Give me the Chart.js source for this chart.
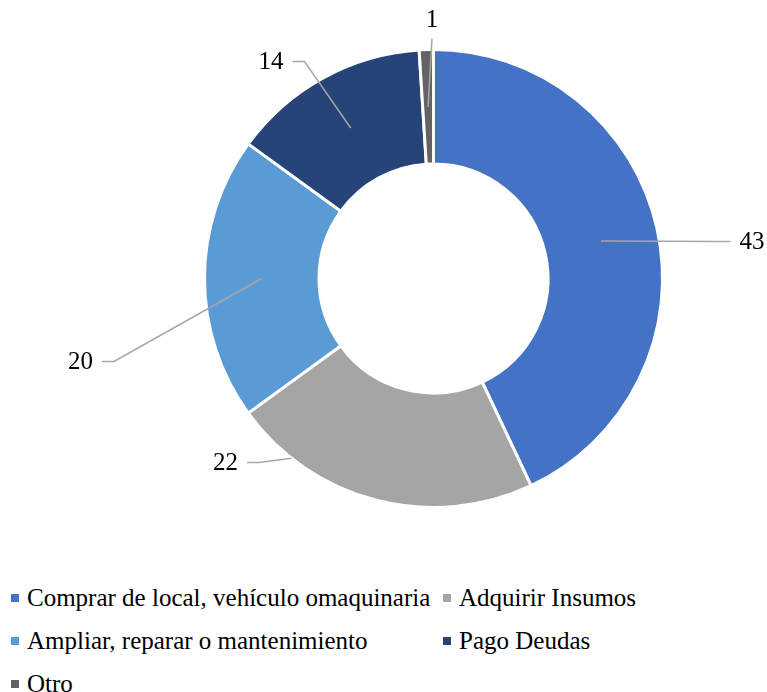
<!DOCTYPE html>
<html lang="es">
<head>
<meta charset="utf-8">
<title>Destino del crédito</title>
<script src="https://cdn.jsdelivr.net/npm/chart.js@4/dist/chart.umd.min.js"></script>
<style>
    html, body {
        margin: 0;
        padding: 0;
        background: #ffffff;
    }
    #page {
        position: relative;
        width: 767px;
        height: 692px;
        overflow: hidden;
        font-family: "Liberation Serif", "Times New Roman", serif;
    }
    #chart-wrapper {
        position: absolute;
        left: 0;
        top: 0;
        width: 767px;
        height: 560px;
    }
    #legend {
        position: absolute;
        left: 11px;
        top: 576px;
        display: grid;
        grid-template-columns: 432px auto;
        grid-auto-rows: 43px;
    }
    .legend-item {
        display: flex;
        align-items: center;
        font-size: 25px;
        color: #000000;
        white-space: nowrap;
    }
    .legend-box {
        width: 8px;
        height: 8px;
        margin-right: 8px;
        flex: none;
    }
</style>
</head>
<body>
<div id="page">
    <div id="chart-wrapper">
        <canvas id="donutChart"></canvas>
    </div>
    <div id="legend"></div>
</div>

<script>
// --- Data ---
const categories = [
    'Comprar de local, vehículo omaquinaria',
    'Adquirir Insumos',
    'Ampliar, reparar o mantenimiento',
    'Pago Deudas',
    'Otro'
];
const values = [43, 22, 20, 14, 1];

// --- Style ---
const sliceColors = ['#4472C4', '#A5A5A5', '#5B9BD5', '#264478', '#636363'];
const leaderColor = '#A6A6A6';
const labelFont = '25px "Liberation Serif", "Times New Roman", serif';

// label centre relative to the doughnut centre, side the leader leaves from,
// and whether the leader stops at the outer edge of the ring
const labelOffsets = [[318.5, -36], [-208, 185], [-353, 84], [-162.5, -216], [-1.5, -258]];
const labelSides = ['left', 'right', 'right', 'right', 'bottom'];
const leaderToEdge = [false, true, false, false, false];

/**
 * Draws the value labels with Excel-style leader lines.
 */
const leaderLabelsPlugin = {
    id: 'leaderLabels',
    afterDatasetsDraw(chart) {
        const ctx = chart.ctx;
        const meta = chart.getDatasetMeta(0);

        ctx.save();
        ctx.font = labelFont;
        ctx.textAlign = 'center';
        ctx.textBaseline = 'middle';

        meta.data.forEach((arc, i) => {
            const { x: cx, y: cy, outerRadius } = arc.getProps(['x', 'y', 'outerRadius'], true);
            const target = arc.getCenterPoint();
            const lx = cx + labelOffsets[i][0];
            const ly = cy + labelOffsets[i][1];
            const text = String(values[i]);
            const halfW = ctx.measureText(text).width / 2;

            // leader line
            let start;
            let elbow;
            if (labelSides[i] === 'bottom') {
                start = { x: lx, y: ly + 18 };
                elbow = start;
            } else {
                const dir = labelSides[i] === 'right' ? 1 : -1;
                start = { x: lx + dir * (halfW + 9), y: ly - 1 };
                elbow = { x: start.x + dir * 12, y: start.y };
            }

            let end = target;
            if (leaderToEdge[i]) {
                end = clipToCircle(elbow, target, cx, cy, outerRadius);
            }

            ctx.beginPath();
            ctx.strokeStyle = leaderColor;
            ctx.lineWidth = 1.5;
            ctx.moveTo(start.x, start.y);
            ctx.lineTo(elbow.x, elbow.y);
            ctx.lineTo(end.x, end.y);
            ctx.stroke();

            ctx.fillStyle = '#000000';
            ctx.fillText(text, lx, ly);
        });

        ctx.restore();
    }
};

/**
 * Returns the point where segment p->q first enters the circle (cx, cy, r).
 */
function clipToCircle(p, q, cx, cy, r) {
    const dx = q.x - p.x;
    const dy = q.y - p.y;
    const fx = p.x - cx;
    const fy = p.y - cy;
    const a = dx * dx + dy * dy;
    const b = 2 * (fx * dx + fy * dy);
    const c = fx * fx + fy * fy - r * r;
    const disc = b * b - 4 * a * c;
    if (disc < 0) return q;
    const t = (-b - Math.sqrt(disc)) / (2 * a);
    if (t < 0 || t > 1) return q;
    return { x: p.x + t * dx, y: p.y + t * dy };
}

/**
 * Builds the two-column legend under the chart.
 */
function renderLegend() {
    const legend = document.getElementById('legend');
    categories.forEach((label, i) => {
        const item = document.createElement('div');
        item.className = 'legend-item';
        item.innerHTML = `<span class="legend-box" style="background:${sliceColors[i]}"></span><span>${label}</span>`;
        legend.appendChild(item);
    });
}

function initChart() {
    const ctx = document.getElementById('donutChart').getContext('2d');
    new Chart(ctx, {
        type: 'doughnut',
        data: {
            labels: categories,
            datasets: [{
                data: values,
                backgroundColor: sliceColors,
                borderColor: '#ffffff',
                borderWidth: 3,
                radius: 229
            }]
        },
        options: {
            responsive: true,
            maintainAspectRatio: false,
            animation: false,
            cutout: '50%',
            layout: {
                padding: { left: 100, right: 0, top: 0, bottom: 3 }
            },
            plugins: {
                legend: { display: false },
                tooltip: { enabled: false }
            }
        },
        plugins: [leaderLabelsPlugin]
    });
}

document.addEventListener('DOMContentLoaded', () => {
    renderLegend();
    initChart();
});
</script>
</body>
</html>
